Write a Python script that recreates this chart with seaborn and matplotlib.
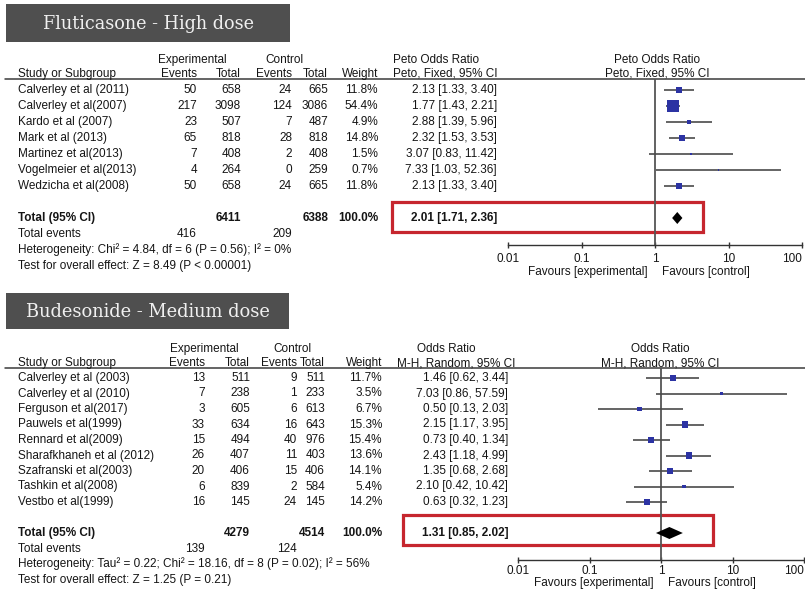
import matplotlib
matplotlib.use("Agg")
import matplotlib.pyplot as plt
import seaborn as sns
from matplotlib.patches import Rectangle
from matplotlib.ticker import FixedLocator, NullLocator

# ---------------- Fluticasone - high dose (Peto OR, fixed effect) ----------------
flu_studies = ["Calverley et al (2011)", "Calverley et al(2007)", "Kardo et al (2007)",
               "Mark et al (2013)", "Martinez et al(2013)", "Vogelmeier et al(2013)",
               "Wedzicha et al(2008)"]
flu_exp_events = [50, 217, 23, 65, 7, 4, 50]
flu_exp_total = [658, 3098, 507, 818, 408, 264, 658]
flu_ctl_events = [24, 124, 7, 28, 2, 0, 24]
flu_ctl_total = [665, 3086, 487, 818, 408, 259, 665]
flu_weight = [11.8, 54.4, 4.9, 14.8, 1.5, 0.7, 11.8]
flu_or = [2.13, 1.77, 2.88, 2.32, 3.07, 7.33, 2.13]
flu_lo = [1.33, 1.43, 1.39, 1.53, 0.83, 1.03, 1.33]
flu_hi = [3.40, 2.21, 5.96, 3.53, 11.42, 52.36, 3.40]
flu_total = {"exp_total": 6411, "ctl_total": 6388, "weight": 100.0,
             "or": 2.01, "lo": 1.71, "hi": 2.36, "exp_events": 416, "ctl_events": 209}
flu_het = "Heterogeneity: Chi\u00b2 = 4.84, df = 6 (P = 0.56); I\u00b2 = 0%"
flu_test = "Test for overall effect: Z = 8.49 (P < 0.00001)"

# ---------------- Budesonide - medium dose (M-H OR, random effects) ----------------
bud_studies = ["Calverley et al (2003)", "Calverley et al (2010)", "Ferguson et al(2017)",
               "Pauwels et al(1999)", "Rennard et al(2009)", "Sharafkhaneh et al (2012)",
               "Szafranski et al(2003)", "Tashkin et al(2008)", "Vestbo et al(1999)"]
bud_exp_events = [13, 7, 3, 33, 15, 26, 20, 6, 16]
bud_exp_total = [511, 238, 605, 634, 494, 407, 406, 839, 145]
bud_ctl_events = [9, 1, 6, 16, 40, 11, 15, 2, 24]
bud_ctl_total = [511, 233, 613, 643, 976, 403, 406, 584, 145]
bud_weight = [11.7, 3.5, 6.7, 15.3, 15.4, 13.6, 14.1, 5.4, 14.2]
bud_or = [1.46, 7.03, 0.50, 2.15, 0.73, 2.43, 1.35, 2.10, 0.63]
bud_lo = [0.62, 0.86, 0.13, 1.17, 0.40, 1.18, 0.68, 0.42, 0.32]
bud_hi = [3.44, 57.59, 2.03, 3.95, 1.34, 4.99, 2.68, 10.42, 1.23]
bud_total = {"exp_total": 4279, "ctl_total": 4514, "weight": 100.0,
             "or": 1.31, "lo": 0.85, "hi": 2.02, "exp_events": 139, "ctl_events": 124}
bud_het = "Heterogeneity: Tau\u00b2 = 0.22; Chi\u00b2 = 18.16, df = 8 (P = 0.02); I\u00b2 = 56%"
bud_test = "Test for overall effect: Z = 1.25 (P = 0.21)"

axis_ticks = [0.01, 0.1, 1, 10, 100]
axis_tick_labels = ["0.01", "0.1", "1", "10", "100"]

sns.set_theme(style="white")
plt.rcParams["font.family"] = ["Liberation Sans", "DejaVu Sans"]

W, H = 805, 589
fig = plt.figure(figsize=(W / 100, H / 100), dpi=100)
fig.patch.set_facecolor("white")
bg = fig.add_axes([0, 0, 1, 1], zorder=0)
bg.set_xlim(0, W)
bg.set_ylim(H, 0)
bg.axis("off")

TXT = "#151515"
FS = 8.5
SQUARE = "#2c33a3"
LINE = "#4a4a4a"
RED = "#c6262e"


def px_axes(left, top, width, height):
    return fig.add_axes([left / W, 1 - (top + height) / H, width / W, height / H], zorder=1)


def panel(lay, studies, ev_e, tot_e, ev_c, tot_c, wt, est, lo, hi, tot, het, test):
    y0, dy = lay["y0"], lay["dy"]

    def rowy(i):
        return y0 + dy * i

    # title banner
    bx0, by0, bx1, by1 = lay["title_box"]
    bg.add_patch(Rectangle((bx0, by0), bx1 - bx0, by1 - by0, facecolor="#4f4f4f",
                           edgecolor="none"))
    bg.text((bx0 + bx1) / 2, (by0 + by1) / 2 + 1, lay["title"], family="DejaVu Serif",
            fontsize=lay["title_fs"], color="#f0f0f0", ha="center", va="center")

    c = lay["cols"]
    h1, h2 = lay["hdr_y"]
    kw = dict(fontsize=FS, color=TXT, va="center")
    bg.text(c["exp_hdr"], h1, "Experimental", ha="left", **kw)
    bg.text(c["ctl_hdr"], h1, "Control", ha="left", **kw)
    bg.text(c["or_hdr"], h1, lay["or_title"], ha="left", **kw)
    bg.text(c["or_sub"], h2, lay["or_method"], ha="left", **kw)
    bg.text(lay["fx_center"], h1, lay["or_title"], ha="center", **kw)
    bg.text(lay["fx_center"], h2, lay["or_method"], ha="center", **kw)
    bg.text(18, h2, "Study or Subgroup", ha="left", **kw)
    for key, lab in [("ev_e", "Events"), ("tot_e", "Total"), ("ev_c", "Events"),
                     ("tot_c", "Total"), ("wt", "Weight")]:
        bg.text(c[key], h2, lab, ha="right", **kw)
    bg.plot([5, W], [lay["line_y"]] * 2, color="#3a3a3a", lw=1.1)

    # study rows
    for i, name in enumerate(studies):
        y = rowy(i)
        bg.text(18, y, name, ha="left", **kw)
        bg.text(c["ev_e"], y, f"{ev_e[i]}", ha="right", **kw)
        bg.text(c["tot_e"], y, f"{tot_e[i]}", ha="right", **kw)
        bg.text(c["ev_c"], y, f"{ev_c[i]}", ha="right", **kw)
        bg.text(c["tot_c"], y, f"{tot_c[i]}", ha="right", **kw)
        bg.text(c["wt"], y, f"{wt[i]:.1f}%", ha="right", **kw)
        bg.text(c["ci"], y, f"{est[i]:.2f} [{lo[i]:.2f}, {hi[i]:.2f}]", ha="right", **kw)

    n = len(studies)
    ti = n + 1
    yt = rowy(ti)
    kb = dict(kw, fontweight="bold")
    bg.text(18, yt, "Total (95% CI)", ha="left", **kb)
    bg.text(c["tot_e"], yt, f"{tot['exp_total']}", ha="right", **kb)
    bg.text(c["tot_c"], yt, f"{tot['ctl_total']}", ha="right", **kb)
    bg.text(c["wt"], yt, f"{tot['weight']:.1f}%", ha="right", **kb)
    bg.text(c["ci"], yt, f"{tot['or']:.2f} [{tot['lo']:.2f}, {tot['hi']:.2f}]",
            ha="right", **kb)
    bg.text(18, rowy(ti + 1), "Total events", ha="left", **kw)
    bg.text(c["ev_e"], rowy(ti + 1), f"{tot['exp_events']}", ha="right", **kw)
    bg.text(c["ev_c"], rowy(ti + 1), f"{tot['ctl_events']}", ha="right", **kw)
    bg.text(18, rowy(ti + 2), het, ha="left", **kw)
    bg.text(18, rowy(ti + 3), test, ha="left", **kw)

    # highlight around the pooled estimate
    rx0, ry0, rx1, ry1 = lay["red_box"]
    bg.add_patch(Rectangle((rx0, ry0), rx1 - rx0, ry1 - ry0, facecolor="none",
                           edgecolor=RED, lw=2.3, zorder=5))

    # forest plot on a log odds-ratio axis
    fx0, fx1 = lay["fx"]
    top, bot = lay["line_y"], lay["axis_y"]
    ax = px_axes(fx0, top, fx1 - fx0, bot - top)
    ax.patch.set_alpha(0)
    ax.set_xscale("log")
    ax.set_xlim(0.01, 100)
    ax.set_ylim((bot - y0) / dy, (top - y0) / dy)
    idx = list(range(n))
    ax.axvline(1, color="#555555", lw=1.3, zorder=1)
    ax.hlines(idx, lo, hi, color=LINE, lw=1.2, zorder=2)
    k = 1.4
    sns.scatterplot(x=est, y=idx, size=wt, sizes=(k * min(wt), k * max(wt)),
                    marker="s", color=SQUARE, linewidth=0, legend=False, ax=ax, zorder=3)
    hd = 6.0 / dy
    ax.fill([tot["lo"], tot["or"], tot["hi"], tot["or"]], [ti, ti - hd, ti, ti + hd],
            color="black", lw=0, zorder=4)
    for s in ["left", "right", "top"]:
        ax.spines[s].set_visible(False)
    ax.spines["bottom"].set_color("#333333")
    ax.spines["bottom"].set_linewidth(1.0)
    ax.xaxis.set_major_locator(FixedLocator(axis_ticks))
    ax.xaxis.set_minor_locator(NullLocator())
    ax.set_xticklabels(axis_tick_labels)
    ax.get_xticklabels()[-1].set_horizontalalignment("right")
    ax.set_yticks([])
    ax.set_xlabel("")
    ax.set_ylabel("")
    ax.tick_params(axis="x", direction="inout", length=5, width=1, colors="#333333",
                   labelsize=FS, labelcolor=TXT, pad=lay["tick_pad"], bottom=True)
    fy = lay["fav_off"]
    ax.annotate("Favours [experimental]", xy=(1, 0), xycoords=("data", "axes fraction"),
                xytext=(-5, -fy), textcoords="offset points", ha="right", va="center",
                fontsize=FS, color=TXT, annotation_clip=False)
    ax.annotate("Favours [control]", xy=(1, 0), xycoords=("data", "axes fraction"),
                xytext=(5, -fy), textcoords="offset points", ha="left", va="center",
                fontsize=FS, color=TXT, annotation_clip=False)


top_layout = {
    "title": "Fluticasone - High dose", "title_box": (6, 4, 290, 42), "title_fs": 12.7,
    "y0": 90, "dy": 16.0, "hdr_y": (60, 74), "line_y": 79, "axis_y": 245,
    "cols": {"exp_hdr": 158, "ctl_hdr": 265, "or_hdr": 393, "or_sub": 393,
             "ev_e": 197, "tot_e": 241, "ev_c": 292, "tot_c": 328, "wt": 378, "ci": 497},
    "or_title": "Peto Odds Ratio", "or_method": "Peto, Fixed, 95% CI",
    "fx": (508, 802), "fx_center": 657, "red_box": (392, 202, 703, 232),
    "fav_off": 19.5, "tick_pad": 3,
}
bottom_layout = {
    "title": "Budesonide - Medium dose", "title_box": (6, 293, 289, 329), "title_fs": 12.9,
    "y0": 378, "dy": 15.5, "hdr_y": (349, 363), "line_y": 368, "axis_y": 560,
    "cols": {"exp_hdr": 170, "ctl_hdr": 273, "or_hdr": 417, "or_sub": 397,
             "ev_e": 205, "tot_e": 250, "ev_c": 297, "tot_c": 325, "wt": 382, "ci": 508},
    "or_title": "Odds Ratio", "or_method": "M-H, Random, 95% CI",
    "fx": (518, 804), "fx_center": 660, "red_box": (403, 515, 713, 545),
    "fav_off": 16.8, "tick_pad": 1,
}

panel(top_layout, flu_studies, flu_exp_events, flu_exp_total, flu_ctl_events,
      flu_ctl_total, flu_weight, flu_or, flu_lo, flu_hi, flu_total, flu_het, flu_test)
panel(bottom_layout, bud_studies, bud_exp_events, bud_exp_total, bud_ctl_events,
      bud_ctl_total, bud_weight, bud_or, bud_lo, bud_hi, bud_total, bud_het, bud_test)

fig.savefig("out.png", dpi=100, facecolor="white")
